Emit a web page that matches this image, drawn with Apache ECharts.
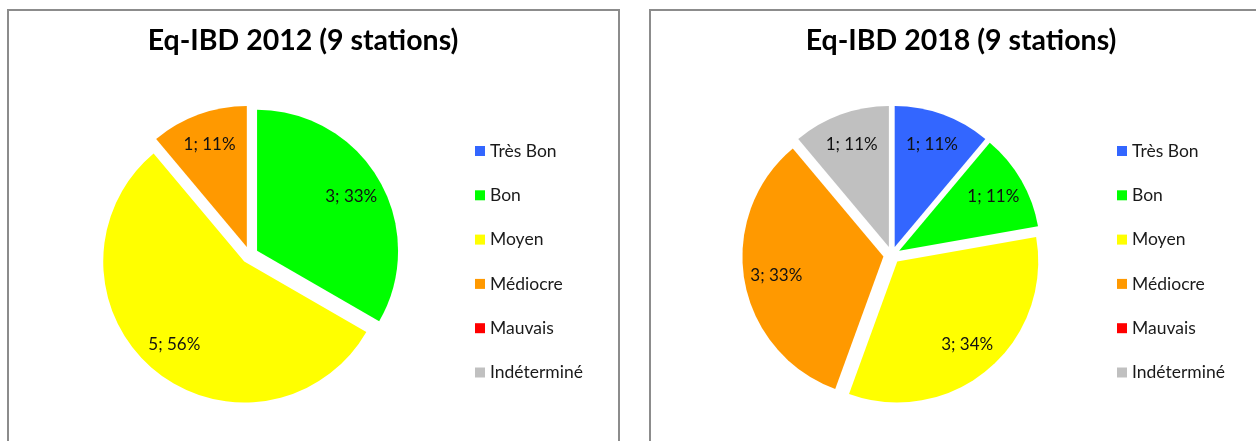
<!DOCTYPE html>
<html>
<head>
<meta charset="utf-8">
<script src="https://cdn.jsdelivr.net/npm/echarts@6/dist/echarts.min.js"></script>
<style>
  html, body { margin: 0; padding: 0; background: #ffffff; }
  #chart { width: 1256px; height: 441px; }
</style>
</head>
<body>
<div id="chart"></div>
<script>
// Quality classes and their colours
const categories = ['Très Bon', 'Bon', 'Moyen', 'Médiocre', 'Mauvais', 'Indéterminé'];
const classColors = ['#3366FF', '#00FF00', '#FFFF00', '#FF9900', '#FF0000', '#C0C0C0'];

// Number of stations per class
const counts2012 = [0, 3, 5, 1, 0, 0];
const counts2018 = [1, 1, 3, 3, 0, 1];

const titles = ['Eq-IBD 2012 (9 stations)', 'Eq-IBD 2018 (9 stations)'];

// Layout
const FONT = 'Lato, "Open Sans", sans-serif';
const R = 141;            // pie radius
const EXPLODE = 8.5;      // distance every slice is pulled out
const panels = [
  { counts: counts2012, center: [249.7, 255], titleX: 303, legendLeft: 475, frame: [8, 10, 611, 470] },
  { counts: counts2018, center: [891.8, 255], titleX: 961, legendLeft: 1117, frame: [650, 10, 640, 470] }
];

function pieData(counts, forLabels) {
  return categories.map((name, i) => ({
    name: name,
    value: counts[i],
    selected: true,
    itemStyle: { color: forLabels ? 'rgba(0,0,0,0)' : classColors[i] },
    label: { show: forLabels && counts[i] > 0 }
  }));
}

const commonPie = {
  type: 'pie',
  startAngle: 90,
  clockwise: true,
  selectedMode: 'multiple',
  selectedOffset: EXPLODE,
  avoidLabelOverlap: false,
  labelLine: { show: false },
  emphasis: { disabled: true },
  animation: false,
  percentPrecision: 0
};

const series = [];
// coloured slices
panels.forEach(p => {
  series.push(Object.assign({}, commonPie, {
    center: p.center,
    radius: [0, R],
    label: { show: false },
    data: pieData(p.counts, false)
  }));
});
// transparent twin pies carrying the "count; percent" labels further out
panels.forEach(p => {
  series.push(Object.assign({}, commonPie, {
    center: p.center,
    radius: [0, R * 1.5],
    silent: true,
    label: {
      show: true,
      position: 'inside',
      formatter: '{c}; {d}%',
      fontFamily: FONT,
      fontSize: 17,
      color: '#111'
    },
    data: pieData(p.counts, true)
  }));
});

const legends = panels.map(p => ({
  data: categories,
  orient: 'vertical',
  left: p.legendLeft,
  top: 142,
  padding: 0,
  icon: 'rect',
  itemWidth: 10,
  itemHeight: 10,
  itemGap: 26.3,
  selectedMode: false,
  textStyle: { fontFamily: FONT, fontSize: 17.5, lineHeight: 17, color: '#1a1a1a' }
}));

const graphics = [];
panels.forEach((p, k) => {
  graphics.push({
    type: 'rect',
    shape: { x: p.frame[0], y: p.frame[1], width: p.frame[2], height: p.frame[3] },
    style: { fill: 'none', stroke: '#8c8c8c', lineWidth: 2 },
    z: -10
  });
  graphics.push({
    type: 'text',
    x: p.titleX,
    y: 41,
    style: {
      text: titles[k],
      font: 'bold 28.5px ' + FONT,
      fill: '#000',
      align: 'center',
      verticalAlign: 'middle',
      textAlign: 'center',
      textVerticalAlign: 'middle'
    }
  });
});

const chart = echarts.init(document.getElementById('chart'), null, { renderer: 'canvas' });
chart.setOption({
  backgroundColor: '#ffffff',
  animation: false,
  legend: legends,
  series: series,
  graphic: graphics
});
</script>
</body>
</html>
